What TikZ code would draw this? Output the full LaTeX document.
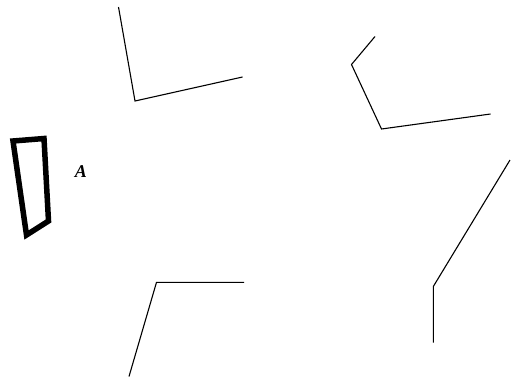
\documentclass[tikz,border=0pt]{standalone}
\usepackage{fontspec}
\setmainfont{Liberation Serif}
\begin{document}
\begin{tikzpicture}[x=1pt,y=-1pt,
  wire/.style={line width=1.1pt,line join=miter},
  thick box/.style={line width=5.5pt,line join=miter},
  lbl/.style={font=\bfseries\itshape\fontsize{18}{18}\selectfont,inner sep=0pt}]
\useasboundingbox (0,0) rectangle (511,381);
% top-left polyline
\coordinate (a1) at (118.5,7);
\coordinate (a2) at (135,101);
\coordinate (a3) at (242.5,77);
\draw[wire] (a1) -- (a2) -- (a3);
% top-right polyline
\coordinate (b1) at (375,36.5);
\coordinate (b2) at (351.5,64.5);
\coordinate (b3) at (381.5,129);
\coordinate (b4) at (490.5,114);
\draw[wire] (b1) -- (b2) -- (b3) -- (b4);
% right polyline
\coordinate (c1) at (510,160);
\coordinate (c2) at (433.3,286.5);
\coordinate (c3) at (433.3,342.5);
\draw[wire] (c1) -- (c2) -- (c3);
% bottom polyline
\coordinate (d1) at (129,376.5);
\coordinate (d2) at (156.5,282.3);
\coordinate (d3) at (244,282.3);
\draw[wire] (d1) -- (d2) -- (d3);
% thick box
\coordinate (e1) at (13,141);
\coordinate (e2) at (44,138.5);
\coordinate (e3) at (48.5,221);
\coordinate (e4) at (26.5,235);
\draw[thick box] (e1) -- (e2) -- (e3) -- (e4) -- cycle;
\node[lbl] (A) at (81,172) {A};
\end{tikzpicture}
\end{document}
